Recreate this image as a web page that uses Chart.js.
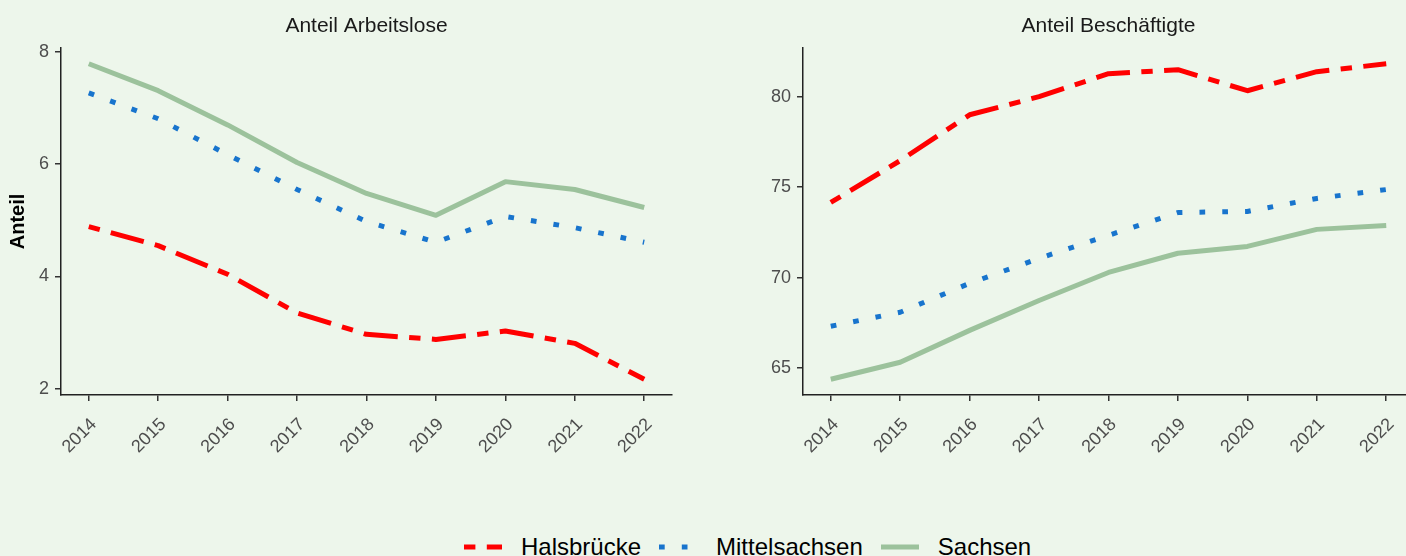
<!DOCTYPE html>
<html><head><meta charset="utf-8">
<script src="https://cdn.jsdelivr.net/npm/chart.js@4.4.1/dist/chart.umd.min.js"></script>
<style>
html,body{margin:0;padding:0;background:#EDF6EB;width:1406px;height:556px;overflow:hidden;position:relative;font-family:"Liberation Sans",Arial,sans-serif;}
.box{position:absolute;top:0;}
#legend{position:absolute;left:464px;top:535px;height:24px;display:flex;align-items:center;white-space:nowrap;}
#legend .key{width:38px;height:10px;margin-right:19px;display:block;}
#legend .txt{font-size:24px;line-height:24px;color:#000;margin-right:18px;}
</style></head><body>
<canvas id="c1" class="box" width="690" height="470" style="left:0px"></canvas>
<canvas id="c2" class="box" width="690" height="470" style="left:740px"></canvas>
<div id="legend"></div>
<script>
// ---- data ----
const years = [2014, 2015, 2016, 2017, 2018, 2019, 2020, 2021, 2022];
const seriesNames = ['Halsbrücke', 'Mittelsachsen', 'Sachsen'];
const arbeitsloseHalsbruecke   = [4.89, 4.55, 4.04, 3.35, 2.97, 2.88, 3.03, 2.81, 2.17];
const arbeitsloseMittelsachsen = [7.27, 6.81, 6.17, 5.55, 4.98, 4.61, 5.07, 4.87, 4.61];
const arbeitsloseSachsen       = [7.79, 7.31, 6.70, 6.03, 5.48, 5.09, 5.69, 5.55, 5.23];
const beschHalsbruecke   = [74.16, 76.47, 79.00, 80.00, 81.27, 81.49, 80.33, 81.38, 81.82];
const beschMittelsachsen = [67.32, 68.09, 69.69, 71.07, 72.34, 73.60, 73.66, 74.38, 74.87];
const beschSachsen       = [64.39, 65.33, 67.09, 68.74, 70.29, 71.35, 71.73, 72.67, 72.89];
const leftYTicks  = [2, 4, 6, 8];
const rightYTicks = [65, 70, 75, 80];
const panelTitles = ['Anteil Arbeitslose', 'Anteil Beschäftigte'];
const yAxisTitle = 'Anteil';

// ---- styles ----
const FONT = '"Liberation Sans", Arial, sans-serif';
const colors = ['#FF0000', '#1874CD', '#9CC29C'];
const dashes = [[11.4, 11.4, 34.2, 11.4], [5.7, 17.1], []];
const LW = 5;

function mkDatasets(vals) {
  return vals.map((arr, i) => ({
    label: seriesNames[i],
    data: arr.map((v, j) => ({x: years[j], y: v})),
    borderColor: colors[i],
    backgroundColor: colors[i],
    borderWidth: LW,
    borderDash: dashes[i],
    borderCapStyle: 'butt',
    borderJoinStyle: 'round',
    pointRadius: 0,
    tension: 0,
    fill: false
  }));
}

function axisCommon() {
  return {
    grid: {display: true, drawOnChartArea: false, drawTicks: true, tickLength: 6, color: '#333333', lineWidth: 1.5},
    border: {display: true, color: '#222222', width: 1.5}
  };
}

function mkChart(id, vals, yMin, yMax, yTicks, title, withYTitle, padRight) {
  const xc = axisCommon(), yc = axisCommon();
  return new Chart(document.getElementById(id), {
    type: 'line',
    data: {datasets: mkDatasets(vals)},
    options: {
      responsive: false, animation: false, devicePixelRatio: 1,
      layout: {padding: {left: 0, right: padRight, top: 0, bottom: 0}},
      plugins: {
        legend: {display: false}, tooltip: {enabled: false},
        title: {display: true, text: title, fullSize: false, color: '#1A1A1A',
          font: {size: 21, weight: 'normal', family: FONT, lineHeight: 1.2},
          padding: {top: 14, bottom: 8.8}}
      },
      scales: {
        x: Object.assign(xc, {
          type: 'linear', min: 2013.6, max: 2022.4,
          afterBuildTicks: s => { s.ticks = years.map(v => ({value: v})); },
          afterFit: s => { s.height = 75; },
          ticks: {autoSkip: false, minRotation: 45, maxRotation: 45, padding: 13, labelOffset: 5, color: '#4D4D4D',
            font: {size: 18, family: FONT}, callback: v => String(v)}
        }),
        y: Object.assign(yc, {
          type: 'linear', min: yMin, max: yMax,
          afterBuildTicks: s => { s.ticks = yTicks.map(v => ({value: v})); },
          afterFit: s => { s.width = withYTitle ? 61 : 63; },
          ticks: {padding: 6, color: '#4D4D4D', font: {size: 18, family: FONT}, callback: v => String(v)},
          title: {display: withYTitle, text: yAxisTitle, color: '#000',
            font: {size: 20, weight: 'bold', family: FONT, lineHeight: 1.2}, padding: {top: 6, bottom: 0}}
        })
      }
    }
  });
}

mkChart('c1', [arbeitsloseHalsbruecke, arbeitsloseMittelsachsen, arbeitsloseSachsen],
  1.89, 8.07, leftYTicks, panelTitles[0], true, 18);
mkChart('c2', [beschHalsbruecke, beschMittelsachsen, beschSachsen],
  63.52, 82.69, rightYTicks, panelTitles[1], false, 16);

// ---- legend ----
const lg = document.getElementById('legend');
seriesNames.forEach((name, i) => {
  const k = document.createElement('canvas');
  k.width = 38; k.height = 10; k.className = 'key';
  const ctx = k.getContext('2d');
  ctx.strokeStyle = colors[i]; ctx.lineWidth = LW; ctx.lineCap = 'butt';
  ctx.setLineDash(dashes[i]);
  ctx.beginPath(); ctx.moveTo(0, 5); ctx.lineTo(38, 5); ctx.stroke();
  lg.appendChild(k);
  const t = document.createElement('span');
  t.className = 'txt'; t.textContent = name;
  lg.appendChild(t);
});
</script>
</body></html>
